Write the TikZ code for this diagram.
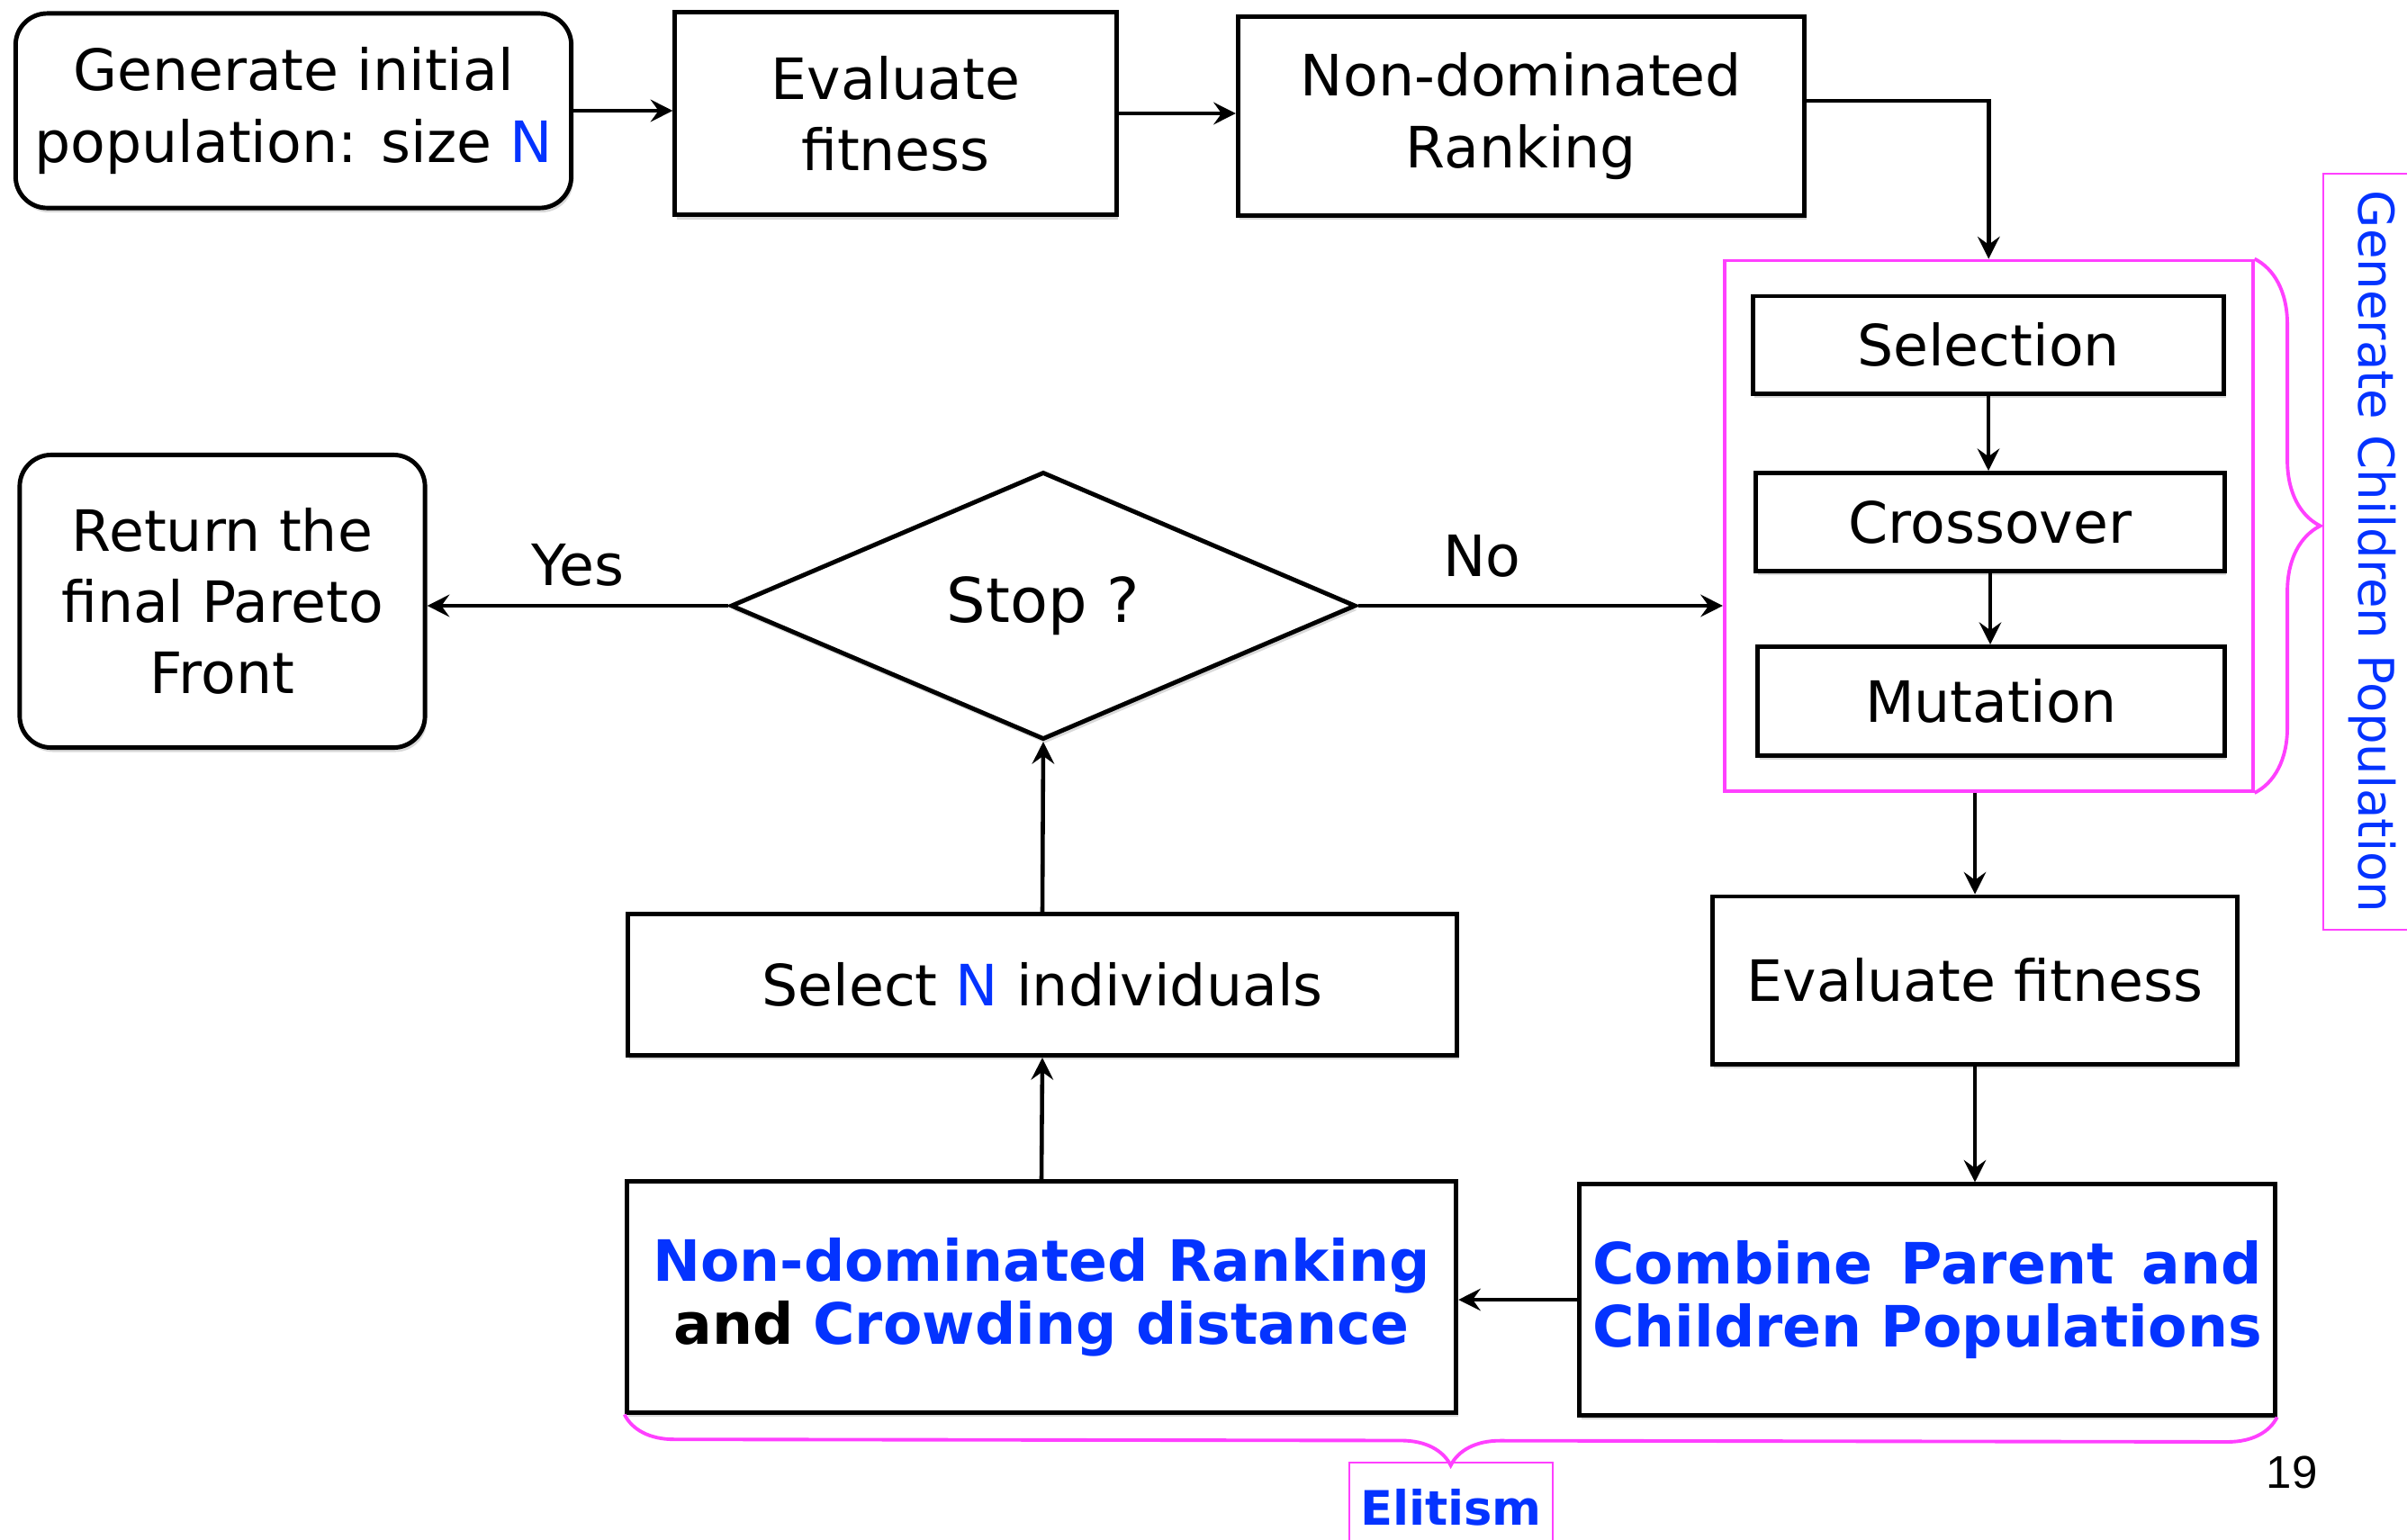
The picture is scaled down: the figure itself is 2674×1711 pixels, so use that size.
\documentclass[tikz,border=0pt]{standalone}
\usepackage{fontspec}
\setmainfont{DejaVu Sans}
\newfontfamily\pagenofont{Liberation Sans}
\usepackage{tikz}
\usetikzlibrary{arrows.meta, positioning, fit, shapes.geometric, shadows, decorations.pathreplacing}
\definecolor{nblue}{RGB}{4,51,255}
\definecolor{npink}{RGB}{255,64,255}

\begin{document}
\begin{tikzpicture}[
      x=0.01cm, y=-0.01cm, >={Stealth[length=7pt,width=7pt,inset=2.5pt]},
      every node/.style={font=\fontsize{18}{22.5}\selectfont},
      block/.style={draw, line width=1.4pt, fill=white, align=center, inner sep=0pt,
        drop shadow={shadow xshift=0.6pt, shadow yshift=-1.4pt, opacity=0.3}},
      roundblock/.style={block, rounded corners=0.35cm},
      boldblock/.style={block, font=\fontsize{18}{20}\selectfont\bfseries, text=nblue},
      decision/.style={block, diamond, minimum width=6.94cm, minimum height=2.97cm},
      flow/.style={->, line width=1.3pt},
      pinkbrace/.style={draw=npink, line width=1.1pt, decorate, decoration={brace, amplitude=#1}},
      ]

      \useasboundingbox (0,0) rectangle (2674,1711);

      % top row
      \node[roundblock, minimum width=6.17cm, minimum height=2.16cm] (gen) at (326,123) {Generate initial\\population: size {\color{nblue}N}};
      \node[block, minimum width=4.9cm, minimum height=2.25cm] (evtop) at (995,126) {Evaluate\\fitness};
      \node[block, minimum width=6.29cm, minimum height=2.2cm] (ndr) at (1690,129) {Non-dominated\\Ranking};

      % children
      \node[block, minimum width=5.23cm, minimum height=1.08cm] (sel) at (2209,383) {Selection};
      \node[block, minimum width=5.2cm, minimum height=1.09cm] (cro) at (2211,580) {Crossover};
      \node[block, minimum width=5.18cm, minimum height=1.21cm] (mut) at (2212,779) {Mutation};
      \node[draw=npink, line width=1.1pt, inner xsep=0.29cm, inner ysep=0.37cm, fit=(sel)(cro)(mut)] (grp) {};
      \node[draw=npink, line width=0.6pt, rotate=-90, minimum width=8.4cm, minimum height=1.1cm,
        text=nblue, font=\fontsize{15.5}{18}\selectfont] (gcp) at (2636,613) {Generate Children Population};

      % middle
      \node[decision, font=\fontsize{19.5}{22}\selectfont] (stop) at (1159,673) {Stop ?};
      \node[roundblock, minimum width=4.5cm, minimum height=3.25cm] (ret) at (247,668) {Return the\\final Pareto\\Front};
      \node[block, minimum width=9.21cm, minimum height=1.57cm] (seln) at (1158,1094) {Select {\color{nblue}N} individuals};
      \node[block, minimum width=5.83cm, minimum height=1.86cm] (evbot) at (2194,1089) {Evaluate fitness};

      % elitism
      \node[boldblock, minimum width=7.72cm, minimum height=2.56cm, text width=7.6cm] (comb) at (2141,1444)
        {\hbox to 7.43cm{Combine\hfill Parent\hfill and}\\Children Populations};
      \node[boldblock, minimum width=9.21cm, minimum height=2.56cm] (ndcd) at (1157,1441)
        {Non-dominated Ranking\\{\color{black}and} Crowding distance};
      \node[draw=npink, line width=0.6pt, anchor=north, minimum width=2.21cm, minimum height=1cm,
        text=nblue, font=\fontsize{15}{18}\selectfont\bfseries] (elit) at (1612,1624) {Elitism};
      \node[font=\pagenofont\fontsize{14.5}{17}\selectfont] (pgno) at (2546,1636) {19};

      \draw[flow] (gen.east) -- (gen.east -| evtop.west);
      \draw[flow] (evtop.east) -- (evtop.east -| ndr.west);
      \draw[flow] ([yshift=0.17cm]ndr.east) -| (grp.north);
      \draw[flow] (sel.south) -- (sel.south |- cro.north);
      \draw[flow] (cro.south) -- (cro.south |- mut.north);
      \draw[flow] (stop.east) -- (stop.east -| grp.west) node[pos=0.34, above=0.18cm] {No};
      \draw[flow] (stop.west) -- (stop.west -| ret.east) node[midway, above=0.08cm] {Yes};
      \draw[flow] (evbot.north |- grp.south) -- (evbot.north);
      \draw[flow] (evbot.south) -- (evbot.south |- comb.north);
      \draw[flow] (comb.west) -- (comb.west -| ndcd.east);
      \draw[flow] (ndcd.north) -- (seln.south);
      \draw[flow] (seln.north) -- (stop.south);

      \draw[pinkbrace=0.73cm] (grp.north east) -- (grp.south east);
      \draw[pinkbrace=0.55cm] (comb.south east) -- (ndcd.south west);
    \end{tikzpicture}
\end{document}
